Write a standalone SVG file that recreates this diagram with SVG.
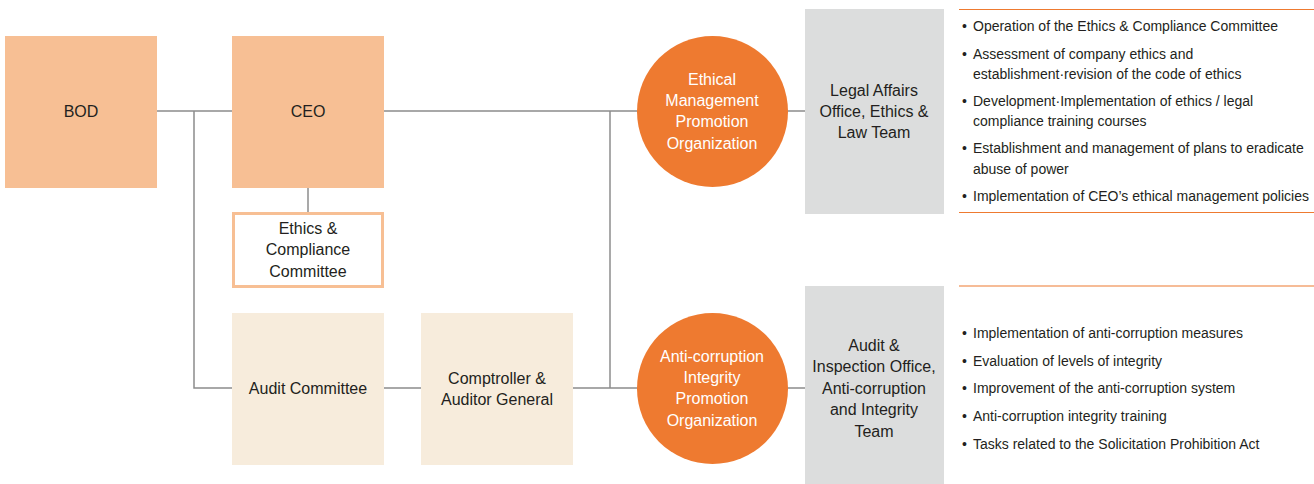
<svg xmlns="http://www.w3.org/2000/svg" width="1314" height="484" viewBox="0 0 1314 484">
<style>
.t{font-family:"Liberation Sans",Arial,sans-serif;font-size:16px;fill:#231f20;text-anchor:middle}
.w{fill:#ffffff}
.li{font-family:"Liberation Sans",Arial,sans-serif;font-size:14px;fill:#231f20}
.c{stroke:#8c8c8c;stroke-width:1.5;fill:none}
.sep{stroke:#ee7a30;stroke-width:1.2}
</style>
<rect width="1314" height="484" fill="#ffffff"/>
<g id="connectors">
<path class="c" d="M157 111H232M384 111H637M788 111H805"/>
<path class="c" d="M194 111V388H232M384 388H421M573 388H637M788 388H805"/>
<path class="c" d="M610 111V388"/>
<path class="c" d="M308 188V212"/>
</g>
<g id="bod"><rect x="5" y="36" width="152" height="152" fill="#f7bf94"/><text class="t" x="81" y="117">BOD</text></g>
<g id="ceo"><rect x="232" y="36" width="152" height="152" fill="#f7bf94"/><text class="t" x="308" y="117">CEO</text></g>
<g id="ethics-committee"><rect x="233.5" y="213.5" width="149" height="73" fill="#ffffff" stroke="#f7bf94" stroke-width="3"/>
<text class="t" x="308" y="234">Ethics &amp;</text><text class="t" x="308" y="255">Compliance</text><text class="t" x="308" y="277">Committee</text></g>
<g id="audit-committee"><rect x="232" y="313" width="152" height="152" fill="#f7ecdc"/><text class="t" x="308" y="394">Audit Committee</text></g>
<g id="comptroller"><rect x="421" y="313" width="152" height="152" fill="#f7ecdc"/><text class="t" x="497" y="384">Comptroller &amp;</text><text class="t" x="497" y="405">Auditor General</text></g>
<g id="ethical-org"><circle cx="712.5" cy="111.5" r="75.5" fill="#ee7a30"/>
<text class="t w" x="712" y="85">Ethical</text><text class="t w" x="712" y="106">Management</text><text class="t w" x="712" y="127">Promotion</text><text class="t w" x="712" y="149">Organization</text></g>
<g id="anti-org"><circle cx="712.5" cy="388.5" r="75.5" fill="#ee7a30"/>
<text class="t w" x="712" y="362">Anti-corruption</text><text class="t w" x="712" y="383">Integrity</text><text class="t w" x="712" y="404">Promotion</text><text class="t w" x="712" y="426">Organization</text></g>
<g id="legal"><rect x="805" y="9" width="139" height="205" fill="#dcdddd"/>
<text class="t" x="874" y="96">Legal Affairs</text><text class="t" x="874" y="117">Office, Ethics &amp;</text><text class="t" x="874" y="138">Law Team</text></g>
<g id="audit-office"><rect x="805" y="286" width="139" height="198" fill="#dcdddd"/>
<text class="t" x="874" y="351">Audit &amp;</text><text class="t" x="874" y="372">Inspection Office,</text><text class="t" x="874" y="394">Anti-corruption</text><text class="t" x="874" y="415">and Integrity</text><text class="t" x="874" y="437">Team</text></g>
<g id="list1">
<line class="sep" x1="959" y1="9.5" x2="1314" y2="9.5"/>
<line class="sep" x1="959" y1="212.5" x2="1314" y2="212.5"/>
<text class="li" x="962" y="31">•</text><text class="li" x="973" y="31">Operation of the Ethics &amp; Compliance Committee</text>
<text class="li" x="962" y="59">•</text><text class="li" x="973" y="59">Assessment of company ethics and</text>
<text class="li" x="973" y="79">establishment·revision of the code of ethics</text>
<text class="li" x="962" y="106">•</text><text class="li" x="973" y="106">Development·Implementation of ethics / legal</text>
<text class="li" x="973" y="126">compliance training courses</text>
<text class="li" x="962" y="153">•</text><text class="li" x="973" y="153">Establishment and management of plans to eradicate</text>
<text class="li" x="973" y="174">abuse of power</text>
<text class="li" x="962" y="201">•</text><text class="li" x="973" y="201">Implementation of CEO’s ethical management policies</text>
</g>
<g id="list2">
<line class="sep" x1="959" y1="286" x2="1314" y2="286"/>
<text class="li" x="962" y="338">•</text><text class="li" x="973" y="338">Implementation of anti-corruption measures</text>
<text class="li" x="962" y="366">•</text><text class="li" x="973" y="366">Evaluation of levels of integrity</text>
<text class="li" x="962" y="393">•</text><text class="li" x="973" y="393">Improvement of the anti-corruption system</text>
<text class="li" x="962" y="421">•</text><text class="li" x="973" y="421">Anti-corruption integrity training</text>
<text class="li" x="962" y="449">•</text><text class="li" x="973" y="449">Tasks related to the Solicitation Prohibition Act</text>
</g>
</svg>
